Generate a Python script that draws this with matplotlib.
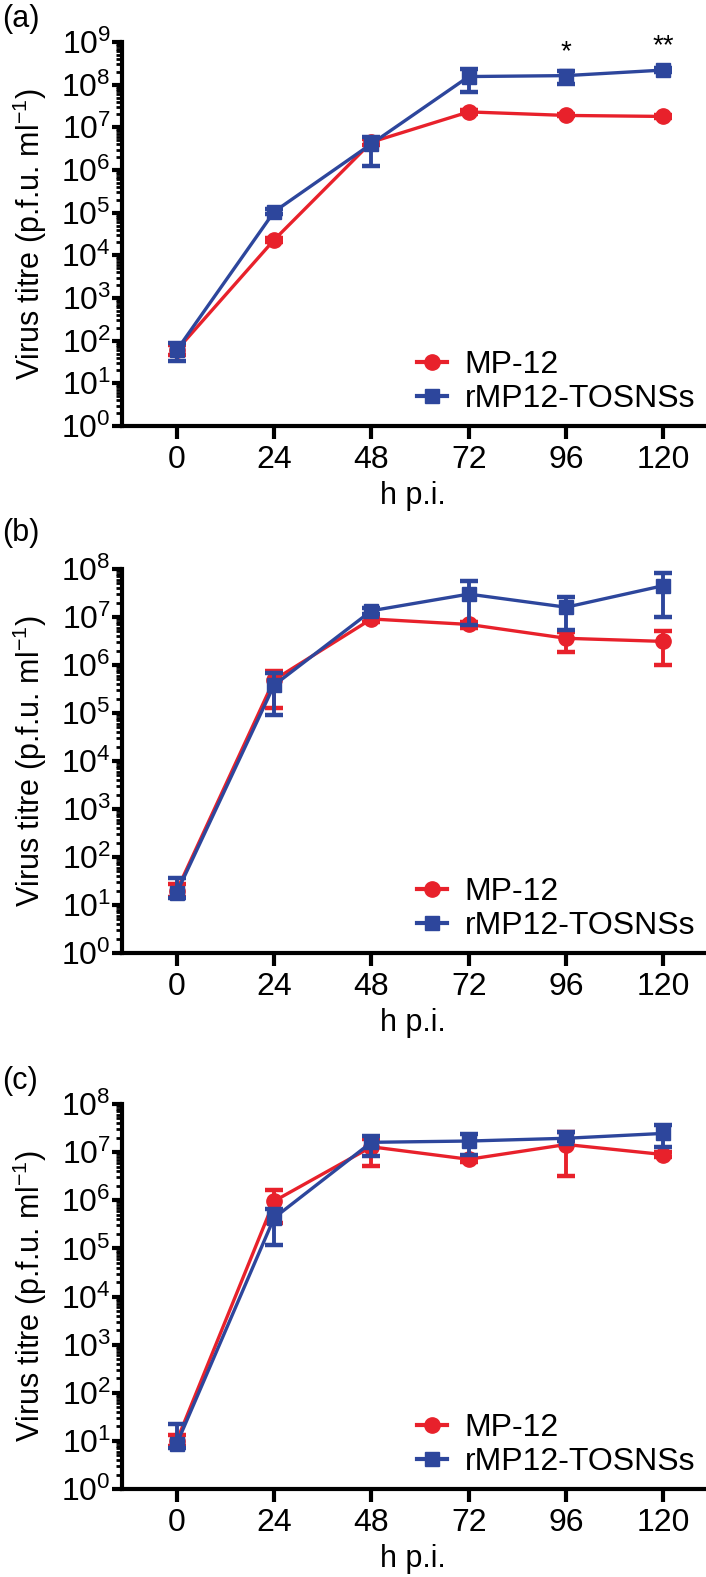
import numpy as np
import matplotlib.pyplot as plt
from matplotlib.lines import Line2D
from matplotlib.ticker import LogLocator, NullFormatter

plt.rcParams['font.family'] = ['Liberation Sans', 'DejaVu Sans']
plt.rcParams['mathtext.fontset'] = 'custom'
plt.rcParams['mathtext.rm'] = 'Liberation Sans'
plt.rcParams['mathtext.it'] = 'Liberation Sans'

hours = [0, 24, 48, 72, 96, 120]
series_names = ["MP-12", "rMP12-TOSNSs"]

# panel (a)
a_mp12 = [60, 2.3e4, 4.5e6, 2.3e7, 1.9e7, 1.8e7]
a_mp12_lo = [45, 2.0e4, 3.8e6, 2.1e7, 1.8e7, 1.7e7]
a_mp12_hi = [80, 2.6e4, 5.2e6, 2.6e7, 2.0e7, 1.9e7]
a_tos = [60, 1.05e5, 4.1e6, 1.55e8, 1.63e8, 2.2e8]
a_tos_lo = [34, 9.5e4, 1.26e6, 6.9e7, 1.03e8, 2.0e8]
a_tos_hi = [90, 1.2e5, 6.0e6, 2.3e8, 2.1e8, 2.4e8]
a_stars = {96: "*", 120: "**"}

# panel (b)
b_mp12 = [20, 4.9e5, 9.1e6, 7.0e6, 3.6e6, 3.1e6]
b_mp12_lo = [15, 1.3e5, 8.0e6, 6.0e6, 1.9e6, 9.8e5]
b_mp12_hi = [28, 7.6e5, 1.05e7, 8.0e6, 4.9e6, 5.2e6]
b_tos = [18, 3.8e5, 1.35e7, 3.0e7, 1.6e7, 4.5e7]
b_tos_lo = [14, 9.1e4, 1.15e7, 6.8e6, 5.4e6, 1.02e7]
b_tos_hi = [37, 6.9e5, 1.55e7, 5.5e7, 2.6e7, 8.1e7]

# panel (c)
c_mp12 = [10, 9.6e5, 1.29e7, 7.1e6, 1.44e7, 8.9e6]
c_mp12_lo = [8, 3.3e5, 5.2e6, 6.3e6, 3.2e6, 8.0e6]
c_mp12_hi = [13, 1.6e6, 1.9e7, 8.0e6, 2.6e7, 1.0e7]
c_tos = [8.7, 4.3e5, 1.6e7, 1.7e7, 1.94e7, 2.45e7]
c_tos_lo = [7, 1.2e5, 8.5e6, 8.9e6, 1.7e7, 1.26e7]
c_tos_hi = [22, 6.7e5, 2.2e7, 2.35e7, 2.6e7, 3.6e7]

panels = [
    ("(a)", 9, a_mp12, a_mp12_lo, a_mp12_hi, a_tos, a_tos_lo, a_tos_hi, a_stars),
    ("(b)", 8, b_mp12, b_mp12_lo, b_mp12_hi, b_tos, b_tos_lo, b_tos_hi, {}),
    ("(c)", 8, c_mp12, c_mp12_lo, c_mp12_hi, c_tos, c_tos_lo, c_tos_hi, {}),
]

red = "#e8212b"
blue = "#2d469c"

fig = plt.figure(figsize=(7.06, 15.77), dpi=100)
H = 1577.0
W = 706.0
# axes boxes in pixels: (top, bottom), plus y of the panel tag
boxes = [(42, 426, 19), (569, 953, 533), (1104, 1489, 1081)]
left, right = 122, 704

for (tag, top_dec, m, m_lo, m_hi, t, t_lo, t_hi, stars), (ytop, ybot, ytag) in zip(panels, boxes):
    ax = fig.add_axes([left / W, 1 - ybot / H, (right - left) / W, (ybot - ytop) / H])
    m = np.array(m)
    t = np.array(t)
    m_err = [m - np.array(m_lo), np.array(m_hi) - m]
    t_err = [t - np.array(t_lo), np.array(t_hi) - t]
    ax.errorbar(hours, m, yerr=m_err, color=red, marker="o", ms=11, lw=2.4,
                elinewidth=2.8, capsize=6.5, capthick=3.2, zorder=3)
    ax.errorbar(hours, t, yerr=t_err, color=blue, marker="s", ms=10.5, lw=2.4,
                elinewidth=2.8, capsize=6.5, capthick=3.2, zorder=4)
    for x, s in stars.items():
        ax.text(x, t[hours.index(x)] * 1.8, s, ha="center", va="bottom", fontsize=20)

    ax.set_yscale("log")
    ax.set_ylim(1, 10 ** top_dec)
    ax.set_xlim(-13.5, 130)
    ax.yaxis.set_major_locator(LogLocator(base=10, numticks=20))
    ax.yaxis.set_minor_locator(LogLocator(base=10, subs=np.arange(2, 10), numticks=100))
    ax.yaxis.set_minor_formatter(NullFormatter())
    ax.set_xticks(hours)
    ax.tick_params(axis="both", which="major", labelsize=23, width=3, length=7, direction="out")
    ax.tick_params(axis="y", which="minor", width=2, length=4.5)
    ax.tick_params(axis="x", length=9, pad=5)
    ax.tick_params(axis="y", pad=1)
    for sp in ["top", "right"]:
        ax.spines[sp].set_visible(False)
    for sp in ["left", "bottom"]:
        ax.spines[sp].set_linewidth(3)
    ax.set_ylabel("Virus titre (p.f.u. ml$^{-1}$)", fontsize=22)
    # ylabel anchor is the right side of the rotated text
    ax.yaxis.set_label_coords((49 - left) / (right - left), 0.5)
    ax.set_xlabel("h p.i.", fontsize=22, labelpad=4)

    handles = [Line2D([], [], color=red, marker="o", ms=11, lw=3),
               Line2D([], [], color=blue, marker="s", ms=10.5, lw=3)]
    ax.legend(handles, series_names, loc="lower right", bbox_to_anchor=(0.985, 0.031),
              frameon=False, fontsize=23, handlelength=0.95, handletextpad=0.55,
              labelspacing=0.12, borderpad=0, borderaxespad=0)
    fig.text(2 / W, 1 - ytag / H, tag, fontsize=22, ha="left", va="center")

fig.savefig("out.png", dpi=100)
